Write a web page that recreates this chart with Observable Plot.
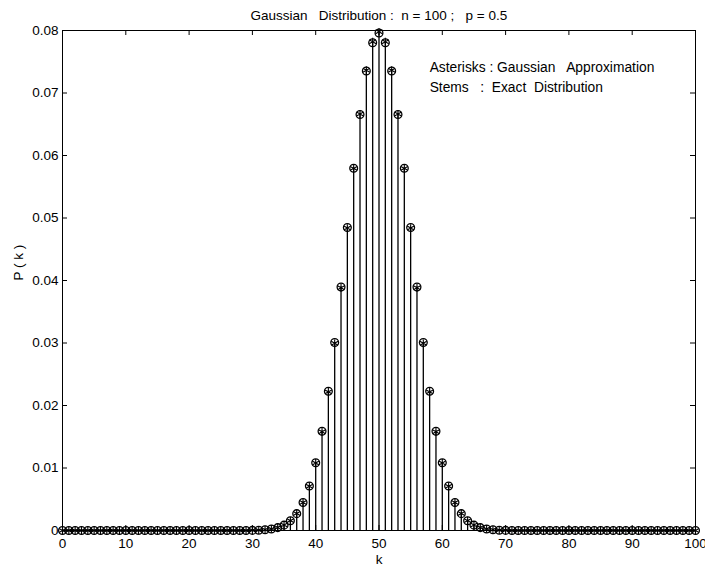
<!DOCTYPE html>
<html><head><meta charset="utf-8">
<script src="https://cdn.jsdelivr.net/npm/d3@7"></script>
<script src="https://cdn.jsdelivr.net/npm/@observablehq/plot@0.6"></script>
<style>
body{margin:0;background:#fff;}
svg text{white-space:pre;}
</style></head><body><div id="chart"></div>
<script>
const k = [0,1,2,3,4,5,6,7,8,9,10,11,12,13,14,15,16,17,18,19,20,21,22,23,24,25,26,27,28,29,30,31,32,33,34,35,36,37,38,39,40,41,42,43,44,45,46,47,48,49,50,51,52,53,54,55,56,57,58,59,60,61,62,63,64,65,66,67,68,69,70,71,72,73,74,75,76,77,78,79,80,81,82,83,84,85,86,87,88,89,90,91,92,93,94,95,96,97,98,99,100];

// Exact distribution (stems with circles)
const exact = [
 0,0,0,0,0,0,0,0,0,0,
 0,0,0,0,0,0,0,0,0,0,
 0,0,0,0,0,0,0,0,0.000002,0.00001,
 0.00002,0.00005,0.00011,0.00023,0.00046,0.00086,0.00156,0.00270,0.00447,0.00711,
 0.01084,0.01587,0.02229,0.03007,0.03895,0.04847,0.05796,0.06657,0.07353,0.07803,
 0.07959,
 0.07803,0.07353,0.06657,0.05796,0.04847,0.03895,0.03007,0.02229,0.01587,0.01084,
 0.00711,0.00447,0.00270,0.00156,0.00086,0.00046,0.00023,0.00011,0.00005,0.00002,
 0.00001,0.000002,0,0,0,0,0,0,0,0,
 0,0,0,0,0,0,0,0,0,0,
 0,0,0,0,0,0,0,0,0,0
];

// Gaussian approximation (asterisks)
const gaussian = [
 0,0,0,0,0,0,0,0,0,0,
 0,0,0,0,0,0,0,0,0,0,
 0,0,0,0,0,0,0,0,0.000003,0.00001,
 0.00003,0.00006,0.00012,0.00025,0.00048,0.00089,0.00158,0.00272,0.00448,0.00709,
 0.01080,0.01579,0.02218,0.02995,0.03884,0.04839,0.05794,0.06664,0.07365,0.07821,
 0.07979,
 0.07821,0.07365,0.06664,0.05794,0.04839,0.03884,0.02995,0.02218,0.01579,0.01080,
 0.00709,0.00448,0.00272,0.00158,0.00089,0.00048,0.00025,0.00012,0.00006,0.00003,
 0.00001,0.000003,0,0,0,0,0,0,0,0,
 0,0,0,0,0,0,0,0,0,0,
 0,0,0,0,0,0,0,0,0,0
];

const xTicks = [0,10,20,30,40,50,60,70,80,90,100];
const yTicks = [0,0.01,0.02,0.03,0.04,0.05,0.06,0.07,0.08];
const yTickLabels = ["0","0.01","0.02","0.03","0.04","0.05","0.06","0.07","0.08"];

const titleText = "Gaussian   Distribution :  n = 100 ;   p = 0.5";
const noteLines = ["Asterisks : Gaussian   Approximation", "Stems   :  Exact  Distribution"];
const xLabel = "k";
const yLabel = "P ( k )";

const exactData = k.map((kk, i) => ({k: kk, p: exact[i]}));
const gaussData = k.map((kk, i) => ({k: kk, p: gaussian[i]}));

const W = 705, H = 566, mL = 62, mR = 10, mT = 30, mB = 36;
const pw = W - mL - mR, ph = H - mT - mB;
const font = "'Liberation Sans', Arial, Helvetica, sans-serif";

const chart = Plot.plot({
  width: W, height: H,
  marginLeft: mL, marginRight: mR, marginTop: mT, marginBottom: mB,
  style: {fontFamily: font, fontSize: "13.5px", color: "black", background: "white", overflow: "visible"},
  x: {domain: [0, 100]},
  y: {domain: [0, 0.08]},
  marks: [
    Plot.frame({stroke: "black", strokeWidth: 1}),
    Plot.tickX(xTicks, {x: d => d, insetTop: ph - 5, stroke: "black"}),
    Plot.tickX(xTicks, {x: d => d, insetBottom: ph - 5, stroke: "black"}),
    Plot.tickY(yTicks, {y: d => d, insetRight: pw - 5, stroke: "black"}),
    Plot.tickY(yTicks, {y: d => d, insetLeft: pw - 5, stroke: "black"}),
    Plot.axisX({ticks: xTicks, tickSize: 0, tickPadding: 8, label: null, fill: "black"}),
    Plot.axisY({ticks: yTicks, tickSize: 0, tickPadding: 4, label: null, fill: "black",
      tickFormat: d => yTickLabels[yTicks.indexOf(d)]}),
    Plot.ruleX(exactData, {x: "k", y1: 0, y2: "p", stroke: "black", strokeWidth: 1.3}),
    Plot.dot(exactData, {x: "k", y: "p", r: 3.9, stroke: "black", strokeWidth: 1.3, fill: "none"}),
    Plot.dot(gaussData, {x: "k", y: "p", symbol: "asterisk", r: 3.7, stroke: "black", strokeWidth: 1.1}),
    Plot.text([titleText], {text: d => d, frameAnchor: "top-left", dx: 188, dy: -11,
      textAnchor: "start", lineAnchor: "bottom", fontSize: 13.5, fill: "black"}),
    Plot.text([{x: 58, y: 0.0740, t: noteLines[0]}, {x: 58, y: 0.0708, t: noteLines[1]}],
      {x: "x", y: "y", text: "t", textAnchor: "start", lineAnchor: "middle", fontSize: 13.8, fill: "black"}),
    Plot.text([xLabel], {text: d => d, frameAnchor: "bottom", dx: 0, dy: 33,
      lineAnchor: "bottom", fontSize: 13.5, fill: "black"}),
    Plot.text([yLabel], {text: d => d, frameAnchor: "left", dx: -44, dy: 0, rotate: -90,
      lineAnchor: "middle", fontSize: 13.5, fill: "black"})
  ]
});
document.getElementById("chart").appendChild(chart);
</script>
</body></html>
